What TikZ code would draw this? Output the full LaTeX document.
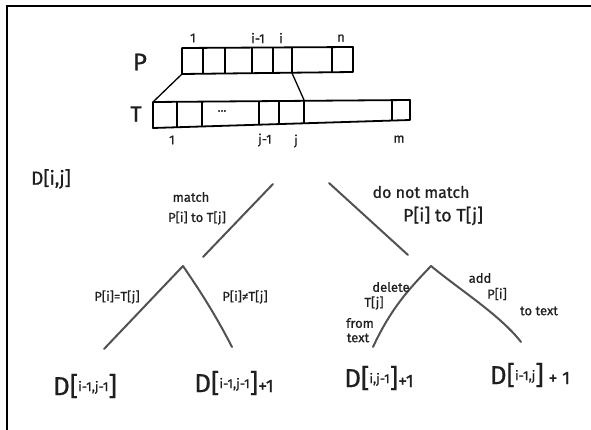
\documentclass[tikz,border=0pt]{standalone}
\usepackage{fontspec}
\setmainfont{Fira Sans}[FakeBold=0.7]
% big-bracket cell label: D[ ... ] with small raised indices
\newcommand\cellD[1]{{\fontsize{26}{26}\selectfont D[}\raisebox{4pt}{\fontsize{13}{13}\selectfont #1}{\fontsize{26}{26}\selectfont ]}}
\begin{document}
\begin{tikzpicture}[x=1pt,y=-1pt,
  arr/.style={line width=1.8pt, black, line join=round},
  frame/.style={line width=2.6pt, black},
  branch/.style={line width=2pt, draw=black!68, line cap=round},
  lab/.style={inner sep=0pt, text=black!88},
  idx/.style={lab, font=\fontsize{13}{13}\selectfont},
  note/.style={lab, font=\fontsize{13}{13}\selectfont},
]
\useasboundingbox (0,0) rectangle (591,430);
\fill[white] (0,0) rectangle (591,430);

% page frame (left and top edges)
\coordinate (fl) at (7,430);
\coordinate (fc) at (7,6);
\coordinate (fr) at (591,6);
\draw[frame] (fl) -- (fc) -- (fr);

% ---------- array P ----------
\node[lab, font=\fontsize{24}{24}\selectfont] (Plab) at (140,62) {P};
\coordinate (Ptl) at (182,48);
\coordinate (Ptr) at (353,47);
\coordinate (Pbr) at (353,72);
\coordinate (Pbl) at (182,74);
\draw[arr] (Ptl) -- (Ptr) -- (Pbr) -- (Pbl) -- cycle;
\foreach \x in {203,225,252,273,292,332}
  \draw[arr] (\x,{48-(\x-182)/171}) -- (\x,{74-2*(\x-182)/171});
\coordinate (Pi) at (292,73);
\node[idx] (p1)  at (193,38) {1};
\node[idx] (pim) at (258,38) {i-1};
\node[idx] (pi)  at (281,38) {i};
\node[idx] (pn)  at (341,38) {n};

% ---------- array T ----------
\node[lab, font=\fontsize{22}{22}\selectfont] (Tlab) at (136,114) {T};
\coordinate (Ttl) at (153,102);
\coordinate (Ttr) at (410,100);
\coordinate (Tbr) at (410,120);
\coordinate (Tbl) at (153,128);
\draw[arr] (Ttl) -- (Ttr) -- (Tbr) -- (Tbl) -- cycle;
\foreach \x in {177,202,259,279,304,392}
  \draw[arr] (\x,{102-2*(\x-153)/257}) -- (\x,{128-8*(\x-153)/257});
\coordinate (Tj) at (304,100);
\node[lab, font=\fontsize{12}{12}\selectfont] (dots) at (222,111) {...};
\node[idx] (t1)  at (172,140) {1};
\node[idx] (tjm) at (265,140) {j-1};
\node[idx] (tj)  at (296,141) {j};
\node[idx] (tm)  at (399,139) {m};

% alignment links between the arrays
\draw[line width=1.3pt, black] (Pbl) -- (Ttl);
\draw[line width=1.3pt, black] (Pi) -- (Tj);

% ---------- recurrence tree ----------
\node[lab, font=\fontsize{19}{19}\selectfont] (Dij) at (51,179) {D[i,j]};

% first split
\coordinate (m1) at (273,184);
\coordinate (m2) at (203,257);
\draw[branch] (m1) -- (m2);
\node[note] (match) at (191,197) {match};
\node[lab, font=\fontsize{13}{13}\selectfont] (match2) at (197,218) {P[i] to T[j]};

\coordinate (n1) at (329,183);
\coordinate (n2) at (408,255);
\draw[branch] (n1) -- (n2);
\node[lab, font=\fontsize{16}{16}\selectfont] (nomatch) at (421,192) {do not match};
\node[lab, font=\fontsize{18}{18}\selectfont] (nomatch2) at (443,216) {P[i] to T[j]};

% match subtree
\coordinate (a1) at (183,266);
\coordinate (a2) at (104,349);
\coordinate (a3) at (232,347);
\draw[branch] (a1) -- (a2);
\draw[branch] (a1) .. controls (198,288) and (214,312) .. (a3);
\node[lab, font=\fontsize{13}{13}\selectfont] (eq) at (117,297) {P[i]=T[j]};
\node[lab, font=\fontsize{13}{13}\selectfont] (neq) at (245,297) {P[i]≠T[j]};

% mismatch subtree
\coordinate (b1) at (431,266);
\coordinate (b2) at (373,347);
\coordinate (b3) at (521,342);
\draw[branch] (b1) .. controls (412,286) and (392,306) .. (b2);
\draw[branch] (b1) .. controls (460,290) and (500,315) .. (b3);
\node[note] (del1) at (391,287) {delete};
\node[note] (del2) at (374,303) {T[j]};
\node[note] (del3) at (360,323) {from};
\node[note] (del4) at (358,338) {text};
\node[note] (add1) at (480,278) {add};
\node[note] (add2) at (497,294) {P[i]};
\node[note] (add3) at (539,311) {to text};

% leaves
\node[lab] (l1) at (85,386) {\cellD{i-1,j-1}};
\node[lab] (l2) at (234,383) {\cellD{i-1,j-1}{\fontsize{18}{18}\selectfont +1}};
\node[lab] (l3) at (379,378) {\cellD{i,j-1}{\fontsize{18}{18}\selectfont +1}};
\node[lab] (l4) at (530,375) {\cellD{i-1,j}{\fontsize{18}{18}\selectfont\ + 1}};
\end{tikzpicture}
\end{document}
